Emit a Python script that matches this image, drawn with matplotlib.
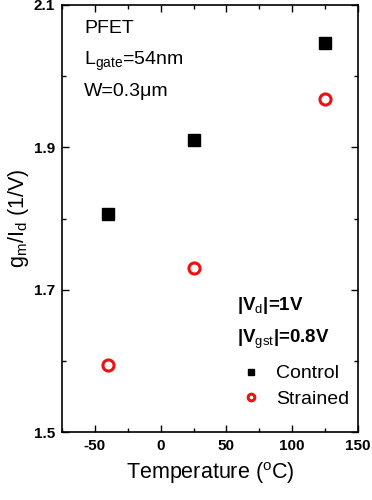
import matplotlib
matplotlib.use("Agg")
import matplotlib.pyplot as plt
from matplotlib.ticker import MultipleLocator, FixedLocator

plt.rcParams['font.family'] = ['Liberation Sans', 'DejaVu Sans']
plt.rcParams['mathtext.fontset'] = 'custom'
plt.rcParams['mathtext.rm'] = 'Liberation Sans'
plt.rcParams['mathtext.bf'] = 'Liberation Sans:bold'
plt.rcParams['axes.unicode_minus'] = False

# data
temperature = [-40, 25, 125]
control = [1.807, 1.910, 2.047]
strained = [1.594, 1.731, 1.968]

fig = plt.figure(figsize=(3.72, 5.0), dpi=100)
ax = fig.add_axes([62 / 372, 1 - 432 / 500, 296 / 372, 427 / 500])

ax.plot(temperature, control, 's', color='black', markersize=8, label='Control')
ax.plot(temperature, strained, 'o', mfc='none', mec='#ee1111', mew=2.2,
        markersize=8, label='Strained')

ax.set_xlim(-75, 150)
ax.set_ylim(1.5, 2.1)
ax.xaxis.set_major_locator(MultipleLocator(50))
ax.xaxis.set_minor_locator(MultipleLocator(25))
ax.yaxis.set_major_locator(FixedLocator([1.5, 1.7, 1.9, 2.1]))
ax.yaxis.set_minor_locator(FixedLocator([1.6, 1.8, 2.0]))
ax.yaxis.set_major_formatter(plt.FormatStrFormatter('%.1f'))
ax.tick_params(which='both', direction='in', top=True, right=True, width=1)
ax.tick_params(which='major', length=5, labelsize=11, pad=5)
ax.tick_params(which='minor', length=3)
for lab in ax.get_xticklabels() + ax.get_yticklabels():
    lab.set_fontweight('bold')
for s in ax.spines.values():
    s.set_linewidth(1.2)

ax.set_xlabel(r'Temperature ($^{\rm o}$C)', fontsize=15.5, labelpad=5)
ax.set_ylabel(r'g$_{\rm m}$/I$_{\rm d}$ (1/V)', fontsize=15.5, labelpad=2)

ax.text(0.075, 0.946, 'PFET', transform=ax.transAxes, fontsize=14, va='center')
ax.text(0.075, 0.86, r'L$_{\rm gate}$=54nm', transform=ax.transAxes, fontsize=14,
        va='baseline')
ax.text(0.075, 0.798, 'W=0.3μm', transform=ax.transAxes, fontsize=14, va='center')

ax.text(0.59, 0.297, r'|V$_{\rm d}$|=1V', transform=ax.transAxes, fontsize=13.5,
        fontweight='bold', va='center')
ax.text(0.59, 0.218, r'|V$_{\rm gst}$|=0.8V', transform=ax.transAxes, fontsize=13.5,
        fontweight='bold', va='center')

ax.legend(loc='lower left', bbox_to_anchor=(0.56, 0.025), frameon=False,
          fontsize=14, markerscale=0.6, handletextpad=0.8, handlelength=1.0,
          labelspacing=0.4, borderpad=0.2)

fig.savefig('out.png', dpi=100)
